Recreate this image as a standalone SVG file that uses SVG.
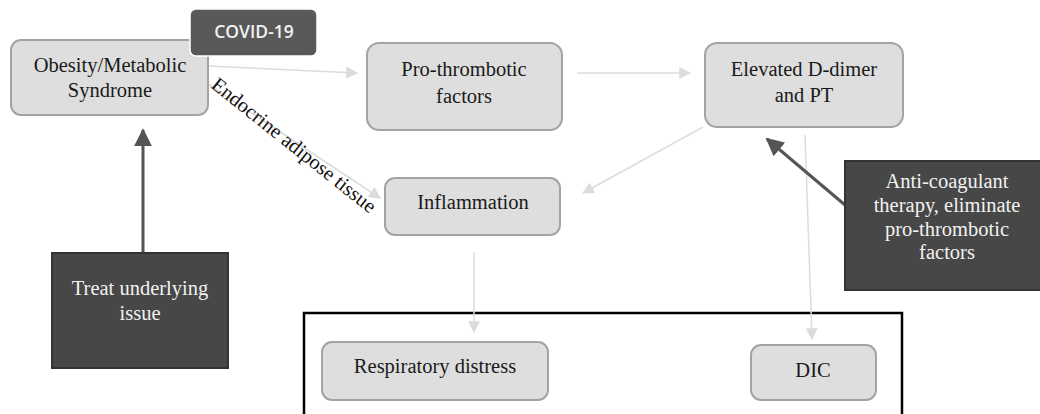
<svg xmlns="http://www.w3.org/2000/svg" width="1040" height="414" viewBox="0 0 1040 414">
<style>
.box{fill:#dedede;stroke:#a3a3a3;stroke-width:2}
.dark{fill:#474747;stroke:#333;stroke-width:2}
.t{font-family:"Liberation Serif","Times New Roman",serif;font-size:20.5px;fill:#1a1a1a;text-anchor:middle}
.tw{font-family:"Liberation Serif","Times New Roman",serif;font-size:20.5px;fill:#f2f2f2;text-anchor:middle}
.lc{stroke:#dcdcdc;stroke-width:1.5;fill:none}
.dc{stroke:#555;stroke-width:3;fill:none}
</style>
<defs>
<marker id="al" viewBox="0 0 10 10" refX="9" refY="5" markerWidth="12" markerHeight="12" markerUnits="userSpaceOnUse" orient="auto"><path d="M0,0 L10,5 L0,10 z" fill="#dcdcdc"/></marker>
<marker id="ad" viewBox="0 0 10 10" refX="9" refY="5" markerWidth="6" markerHeight="6" orient="auto"><path d="M0,0 L10,5 L0,10 z" fill="#555"/></marker>
</defs>
<rect x="304" y="313" width="598" height="110" fill="none" stroke="#000" stroke-width="2.5"/>
<g id="connectors">
<line class="lc" x1="208" y1="66" x2="357" y2="73" marker-end="url(#al)"/>
<line class="lc" x1="577" y1="73" x2="690" y2="73" marker-end="url(#al)"/>
<line class="lc" x1="208" y1="84" x2="380" y2="198" marker-end="url(#al)"/>
<line class="lc" x1="703" y1="127" x2="583" y2="193" marker-end="url(#al)"/>
<line class="lc" x1="474" y1="252" x2="474" y2="332" marker-end="url(#al)"/>
<line class="lc" x1="805" y1="135" x2="812" y2="339" marker-end="url(#al)"/>
<line class="dc" x1="143" y1="253" x2="143" y2="130" marker-end="url(#ad)"/>
<line class="dc" x1="845" y1="205" x2="767" y2="139" marker-end="url(#ad)"/>
<text transform="translate(210,87) rotate(38.5)" font-family="Liberation Serif, Times New Roman, serif" font-size="20.5" fill="#111">Endocrine adipose tissue</text>
</g>
<g id="obesity"><rect class="box" x="11" y="40" width="197" height="75" rx="10"/><text class="t" x="110" y="72">Obesity/Metabolic</text><text class="t" x="110" y="97">Syndrome</text></g>
<g id="covid"><rect x="190" y="9" width="127" height="47" rx="6" fill="#595959" stroke="#fff" stroke-width="1.5"/><text x="254" y="38" font-family="Open Sans, Liberation Sans, sans-serif" font-size="17.5" font-weight="600" fill="#f2f2f2" text-anchor="middle">COVID-19</text></g>
<g id="prothrombotic"><rect class="box" x="367" y="43" width="195" height="87" rx="12"/><text class="t" x="464" y="76">Pro-thrombotic</text><text class="t" x="464" y="103">factors</text></g>
<g id="elevated"><rect class="box" x="705" y="43" width="198" height="84" rx="12"/><text class="t" x="804" y="76">Elevated D-dimer</text><text class="t" x="804" y="102">and PT</text></g>
<g id="inflammation"><rect class="box" x="385" y="178" width="175" height="57" rx="10"/><text class="t" x="473" y="209">Inflammation</text></g>
<g id="respiratory"><rect class="box" x="322" y="342" width="226" height="58" rx="10"/><text class="t" x="435" y="373">Respiratory distress</text></g>
<g id="dic"><rect class="box" x="751" y="345" width="125" height="55" rx="10"/><text class="t" x="813" y="377">DIC</text></g>
<g id="treat"><rect class="dark" x="52" y="253" width="176" height="115"/><text class="tw" x="140" y="295">Treat underlying</text><text class="tw" x="140" y="320">issue</text></g>
<g id="anticoag"><rect class="dark" x="845" y="161" width="200" height="129"/><text class="tw" x="947" y="188">Anti-coagulant</text><text class="tw" x="947" y="212">therapy, eliminate</text><text class="tw" x="947" y="236">pro-thrombotic</text><text class="tw" x="947" y="259">factors</text></g>
</svg>
